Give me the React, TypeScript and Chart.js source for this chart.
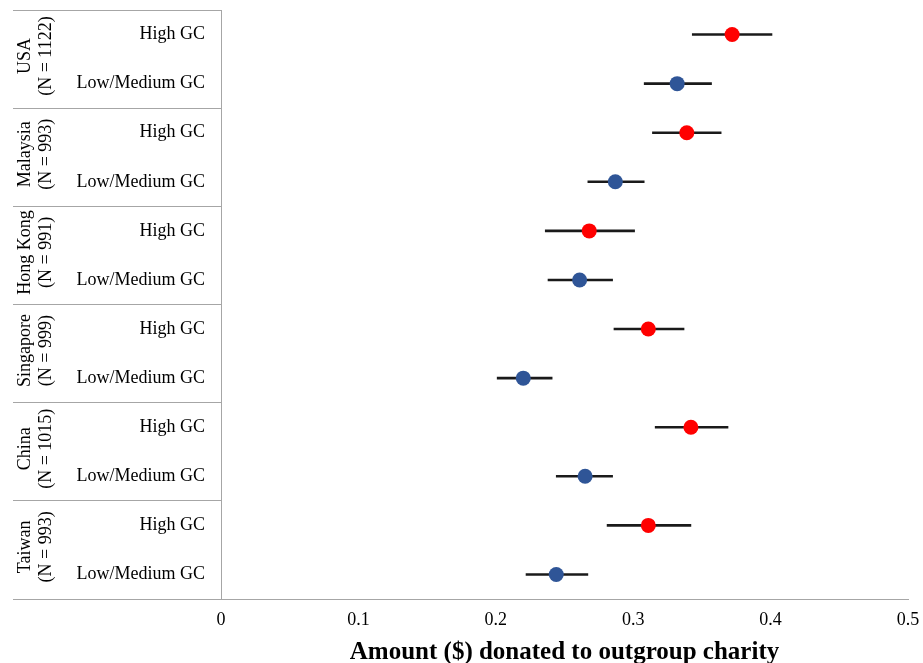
import React, { useEffect, useRef } from 'react';
import { Chart, registerables } from 'chart.js';

Chart.register(...registerables);

// ---- Data ----
const countries = ['USA', 'Malaysia', 'Hong Kong', 'Singapore', 'China', 'Taiwan'];
const sampleSizes = ['(N = 1122)', '(N = 993)', '(N = 991)', '(N = 999)', '(N = 1015)', '(N = 993)'];
const groupLabels = ['High GC', 'Low/Medium GC'];

const highGC = [0.372, 0.339, 0.268, 0.311, 0.342, 0.311];
const highGCLower = [0.343, 0.314, 0.236, 0.286, 0.316, 0.281];
const highGCUpper = [0.401, 0.364, 0.301, 0.337, 0.369, 0.342];

const lowGC = [0.332, 0.287, 0.261, 0.220, 0.265, 0.244];
const lowGCLower = [0.308, 0.267, 0.238, 0.201, 0.244, 0.222];
const lowGCUpper = [0.357, 0.308, 0.285, 0.241, 0.285, 0.267];

const xTickValues = [0, 0.1, 0.2, 0.3, 0.4, 0.5];
const xTickLabels = ['0', '0.1', '0.2', '0.3', '0.4', '0.5'];
const xTitle = 'Amount ($) donated to outgroup charity';

const FONT = "'Liberation Serif', 'Times New Roman', serif";
const GRAY = '#a6a6a6';
const RED = '#ff0000';
const BLUE = '#2f5597';
const BAR = '#1a1a1a';

const rowCount = countries.length * groupLabels.length;

export default function App() {
  const canvasRef = useRef<HTMLCanvasElement | null>(null);

  useEffect(() => {
    if (!canvasRef.current) return;

    // row index: country c, group g -> c * 2 + g ; centred at +0.5
    const rowY = (c: number, g: number) => c * groupLabels.length + g + 0.5;

    const separators: number[] = [];
    for (let c = 0; c <= countries.length; c++) separators.push(c * groupLabels.length);
    const rowCenters: number[] = [];
    for (let r = 0; r < rowCount; r++) rowCenters.push(r + 0.5);
    const gcTicks = [...separators, ...rowCenters].sort((a, b) => a - b);
    const countryTicks = countries.map((_, c) => c * groupLabels.length + groupLabels.length / 2);

    const chart = new Chart(canvasRef.current, {
      type: 'scatter',
      data: {
        datasets: [
          {
            type: 'scatter',
            label: 'High GC',
            data: highGC.map((v, c) => ({ x: v, y: rowY(c, 0) })),
            backgroundColor: RED,
            borderWidth: 0,
            pointRadius: 7.5,
            pointHoverRadius: 7.5,
            xAxisID: 'x',
            yAxisID: 'y',
            order: 0,
          },
          {
            type: 'scatter',
            label: 'Low/Medium GC',
            data: lowGC.map((v, c) => ({ x: v, y: rowY(c, 1) })),
            backgroundColor: BLUE,
            borderWidth: 0,
            pointRadius: 7.5,
            pointHoverRadius: 7.5,
            xAxisID: 'x',
            yAxisID: 'y',
            order: 0,
          },
          {
            type: 'bar',
            label: 'High GC CI',
            indexAxis: 'y',
            grouped: false,
            data: highGCLower.map((lo, c) => ({ x: [lo, highGCUpper[c]], y: rowY(c, 0) })),
            backgroundColor: BAR,
            borderWidth: 0,
            barThickness: 2,
            borderSkipped: false,
            xAxisID: 'x',
            yAxisID: 'y',
            order: 1,
          },
          {
            type: 'bar',
            label: 'Low GC CI',
            indexAxis: 'y',
            grouped: false,
            data: lowGCLower.map((lo, c) => ({ x: [lo, lowGCUpper[c]], y: rowY(c, 1) })),
            backgroundColor: BAR,
            borderWidth: 0,
            barThickness: 2,
            borderSkipped: false,
            xAxisID: 'x',
            yAxisID: 'y',
            order: 1,
          },
        ] as any,
      },
      options: {
        animation: false,
        responsive: false,
        events: [],
        layout: { padding: { top: 10, right: 15, bottom: 0, left: 0 } },
        plugins: {
          legend: { display: false },
          tooltip: { enabled: false },
        },
        scales: {
          x: {
            type: 'linear',
            axis: 'x',
            position: 'bottom',
            min: 0,
            max: 0.5,
            afterBuildTicks: (s: any) => {
              s.ticks = xTickValues.map((v) => ({ value: v }));
            },
            ticks: {
              autoSkip: false,
              maxRotation: 0,
              callback: (_v: any, i: number) => xTickLabels[i],
              font: { family: FONT, size: 18 },
              color: '#000',
              padding: 0,
            },
            grid: { display: false, drawTicks: true, tickLength: 10 },
            border: { display: true, color: GRAY, width: 1 },
            title: {
              display: true,
              text: xTitle,
              color: '#000',
              font: { family: FONT, size: 25, weight: 'bold', lineHeight: 1 },
              padding: { top: 0, bottom: -2 },
            },
            afterFit: (s: any) => {
              s.height = 64;
            },
          },
          y: {
            type: 'linear',
            axis: 'y',
            position: 'left',
            weight: 0,
            min: 0,
            max: rowCount,
            reverse: true,
            offset: false,
            afterBuildTicks: (s: any) => {
              s.ticks = gcTicks.map((v) => ({ value: v }));
            },
            ticks: {
              autoSkip: false,
              crossAlign: 'near',
              callback: (v: any) => {
                const n = Number(v);
                if (Math.abs(n % 1 - 0.5) < 1e-6) return groupLabels[Math.floor(n) % groupLabels.length];
                return '';
              },
              font: { family: FONT, size: 18 },
              color: '#000',
              padding: -192,
            },
            grid: {
              display: true,
              offset: false,
              drawOnChartArea: false,
              drawTicks: true,
              tickLength: 208,
              lineWidth: 1,
              color: (ctx: any) => {
                const v = ctx.tick ? ctx.tick.value : -1;
                return separators.indexOf(v) >= 0 ? GRAY : 'rgba(0,0,0,0)';
              },
            },
            border: { display: true, color: GRAY, width: 1 },
            afterFit: (s: any) => {
              s.width = 161;
            },
          },
          country: {
            type: 'linear',
            axis: 'y',
            position: 'left',
            weight: 1,
            min: 0,
            max: rowCount,
            reverse: true,
            offset: false,
            afterBuildTicks: (s: any) => {
              s.ticks = countryTicks.map((v) => ({ value: v }));
            },
            ticks: {
              autoSkip: false,
              minRotation: 90,
              maxRotation: 90,
              crossAlign: 'center',
              callback: (v: any) => {
                const c = countryTicks.indexOf(Number(v));
                return c >= 0 ? [countries[c], sampleSizes[c]] : '';
              },
              font: { family: FONT, size: 18, lineHeight: 1.2 },
              color: '#000',
              padding: -18,
              labelOffset: -3,
            },
            grid: { display: false, drawTicks: false, offset: false },
            border: { display: false },
            afterFit: (s: any) => {
              s.width = 60;
            },
          },
        } as any,
      },
    });

    return () => chart.destroy();
  }, []);

  return (
    <div style={{ position: 'absolute', left: 0, top: 0, width: 923, height: 663, background: '#fff' }}>
      <canvas ref={canvasRef} width={923} height={663} style={{ display: 'block', width: 923, height: 663 }} />
    </div>
  );
}
